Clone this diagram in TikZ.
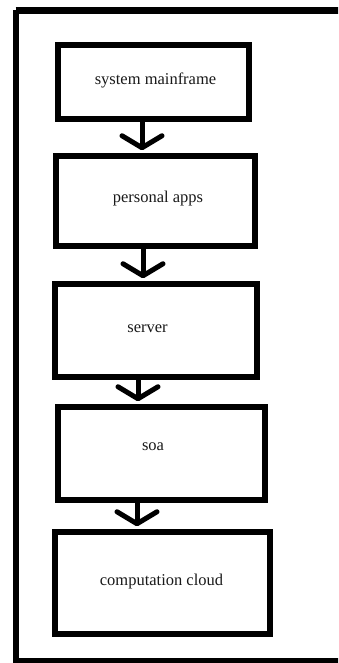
\documentclass[tikz,border=0pt]{standalone}
\usepackage{fontspec}
\setmainfont{Liberation Serif}
\usetikzlibrary{arrows.meta}
\begin{document}
\begin{tikzpicture}[x=1pt,y=-1pt,
  boxnode/.style={draw=black,line width=5.5pt,rectangle,inner sep=0pt},
  lbl/.style={inner sep=0pt,font=\fontsize{16.5}{18}\selectfont,text=black!90},
  arr/.style={line width=5pt,-{Straight Barb[length=12pt,width=40pt,round]},shorten >=3pt}]
\useasboundingbox (0,0) rectangle (338,663);
\clip (0,0) rectangle (338,663);
\fill[white] (0,0) rectangle (338,663);
% outer frame
\draw[line width=6.5pt] (15.5,10.5) -- (360,10.5);
\draw[line width=6pt] (15.5,10.5) -- (15.5,661) -- (360,661);
% boxes
\node[boxnode,minimum width=191pt,minimum height=74pt] (b1) at (153.5,82) {};
\node[boxnode,minimum width=199pt,minimum height=90pt] (b2) at (155.5,201) {};
\node[boxnode,minimum width=202pt,minimum height=93pt] (b3) at (156,330.5) {};
\node[boxnode,minimum width=207pt,minimum height=93pt] (b4) at (161.5,453.5) {};
\node[boxnode,minimum width=215pt,minimum height=102pt] (b5) at (162.5,583) {};
% labels
\node[lbl] (t1) at (155.5,80) {system mainframe};
\node[lbl] (t2) at (158,199) {personal apps};
\node[lbl] (t3) at (147.5,329) {server};
\node[lbl] (t4) at (153,447) {soa};
\node[lbl] (t5) at (161.5,582) {computation cloud};
% arrow x positions
\coordinate (x1) at (142,0);
\coordinate (x2) at (143,0);
\coordinate (x3) at (138,0);
\coordinate (x4) at (137,0);
% arrows
\draw[arr] (b1.south -| x1) -- (b2.north -| x1);
\draw[arr] (b2.south -| x2) -- (b3.north -| x2);
\draw[arr] (b3.south -| x3) -- (b4.north -| x3);
\draw[arr] (b4.south -| x4) -- (b5.north -| x4);
\end{tikzpicture}
\end{document}
